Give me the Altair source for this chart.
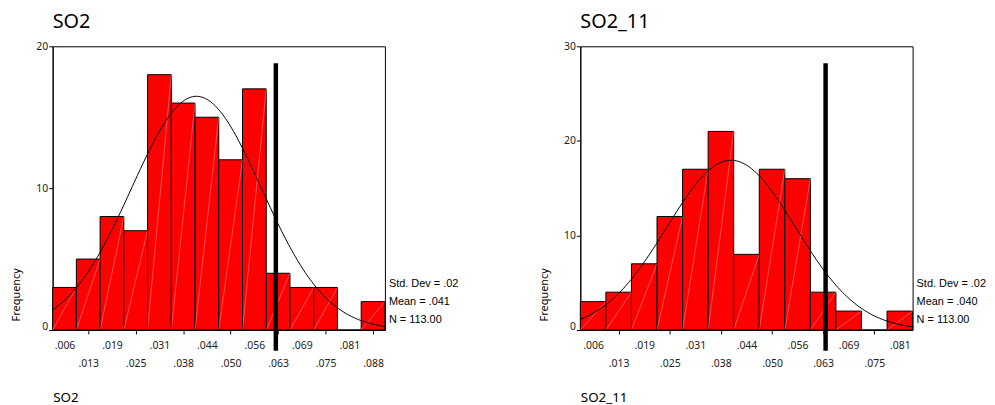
import altair as alt
import pandas as pd

BIN_WIDTH = 0.00625
N = 113

# SO2 histogram
so2_centers = [0.00625, 0.0125, 0.01875, 0.025, 0.03125, 0.0375, 0.04375,
               0.05, 0.05625, 0.0625, 0.06875, 0.075, 0.08125, 0.0875]
so2_counts = [3, 5, 8, 7, 18, 16, 15, 12, 17, 4, 3, 3, 0, 2]
so2_labels = [".006", ".013", ".019", ".025", ".031", ".038", ".044",
              ".050", ".056", ".063", ".069", ".075", ".081", ".088"]
so2_stats = ["Std. Dev = .02", "Mean = .041", "N = 113.00"]
so2_mean, so2_sd = 0.041, 0.0171
so2_ref = 0.0619

# SO2_11 histogram
so2_11_centers = [0.00625, 0.0125, 0.01875, 0.025, 0.03125, 0.0375, 0.04375,
                  0.05, 0.05625, 0.0625, 0.06875, 0.075, 0.08125]
so2_11_counts = [3, 4, 7, 12, 17, 21, 8, 17, 16, 4, 2, 0, 2]
so2_11_labels = [".006", ".013", ".019", ".025", ".031", ".038", ".044",
                 ".050", ".056", ".063", ".069", ".075", ".081"]
so2_11_stats = ["Std. Dev = .02", "Mean = .040", "N = 113.00"]
so2_11_mean, so2_11_sd = 0.040, 0.0157
so2_11_ref = 0.0631

W, H = 335, 286
FONT = "Noto Sans"
STAT_FONT = "Liberation Sans"


def panel(name, centers, counts, labels, ymax, yticks, mean, sd, ref, stats):
    half = BIN_WIDTH / 2
    df = pd.DataFrame({
        "start": [c - half for c in centers],
        "end": [c + half for c in centers],
        "count": counts,
    })
    xmin = centers[0] - half
    xmax = centers[-1] + half
    arr = "[" + ",".join(f"'{l}'" for l in labels) + "]"
    k = f"round(datum.value/{BIN_WIDTH})"
    label_expr = f"({k}) % 2 == 1 ? {arr}[{k}-1] : ['', {arr}[{k}-1]]"

    xscale = alt.Scale(domain=[xmin, xmax], nice=False, zero=False)
    yscale = alt.Scale(domain=[0, ymax], nice=False)

    xaxis = alt.Axis(
        values=centers, labelExpr=label_expr, labelOverlap=False, labelFlush=False,
        grid=False, tickSize=4, tickColor="black",
        tickOpacity={"condition": {"test": f"({k}) % 2 == 1", "value": 0}, "value": 1},
        labelPadding=7, labelFontSize=10.5, labelFont=FONT, labelColor="#222",
        labelLineHeight=18, domainColor="black",
        title=name, titleAnchor="start", titleAlign="left", titleX=0, titleY=72,
        titleBaseline="alphabetic", titleFontSize=13.5, titleFont=FONT,
        titleFontWeight="normal", titleColor="black",
    )
    yaxis = alt.Axis(
        values=yticks, grid=False, tickSize=4, tickColor="black", domainColor="black",
        labelPadding=1, labelFontSize=10.5, labelFont=FONT, labelColor="#222",
        labelBaseline={"condition": {"test": "datum.value == 0", "value": "alphabetic"},
                       "value": "middle"},
        title="Frequency", titleAngle=270, titleAlign="center", titleBaseline="bottom",
        titleX=-31, titleY=250, titleFontSize=11, titleFont=FONT,
        titleFontWeight="normal", titleColor="black",
    )

    bars = alt.Chart(df).mark_bar(fill="#ff0000", stroke="black", strokeWidth=1).encode(
        x=alt.X("start:Q", scale=xscale, axis=xaxis),
        x2="end:Q",
        y=alt.Y("count:Q", scale=yscale, axis=yaxis),
        y2=alt.datum(0),
    )

    hatch = alt.Chart(df).transform_filter("datum.count > 0").transform_calculate(
        base="0"
    ).mark_rule(color="white", strokeWidth=0.7, opacity=0.45).encode(
        x=alt.X("start:Q", scale=xscale, axis=xaxis),
        x2="end:Q",
        y=alt.Y("base:Q", scale=yscale, axis=yaxis),
        y2="count:Q",
    )

    curve = alt.Chart(
        alt.sequence(xmin, xmax + 1e-9, (xmax - xmin) / 200, as_="x")
    ).transform_calculate(
        y=f"{N}*{BIN_WIDTH}/({sd}*sqrt(2*PI))*exp(-pow(datum.x-{mean},2)/(2*{sd}*{sd}))"
    ).mark_line(color="black", strokeWidth=1).encode(
        x=alt.X("x:Q", scale=xscale, axis=xaxis),
        y=alt.Y("y:Q", scale=yscale, axis=yaxis),
    )

    rule = alt.Chart(pd.DataFrame({"ref": [ref]})).mark_rule(
        color="black", strokeWidth=4.5
    ).encode(
        x=alt.X("ref:Q", scale=xscale, axis=xaxis),
        y=alt.value(17),
        y2=alt.value(H + 21),
    )

    texts = []
    for i, s in enumerate(stats):
        texts.append(
            alt.Chart(pd.DataFrame({"t": [s]})).mark_text(
                align="left", baseline="alphabetic", font=STAT_FONT, fontSize=11,
                color="black",
            ).encode(text="t:N", x=alt.value(W + 4), y=alt.value(H - 43.5 + i * 18.3))
        )

    return alt.layer(bars, hatch, curve, rule, *texts).properties(
        width=W, height=H,
        title=alt.TitleParams(name, anchor="start", frame="group", fontSize=20, font=FONT,
                              fontWeight="normal", color="black", offset=9),
    )


left = panel("SO2", so2_centers, so2_counts, so2_labels, 20, [0, 10, 20],
             so2_mean, so2_sd, so2_ref, so2_stats)
right = panel("SO2_11", so2_11_centers, so2_11_counts, so2_11_labels, 30, [0, 10, 20, 30],
              so2_11_mean, so2_11_sd, so2_11_ref, so2_11_stats)

chart = alt.hconcat(left, right, spacing=197, bounds="flush").properties(
    padding={"left": 2, "top": 2, "right": 0, "bottom": 0},
    background="white",
).configure_view(stroke="black", strokeWidth=1)

chart.save("out.html", embed_options={"renderer": "svg", "actions": False})
